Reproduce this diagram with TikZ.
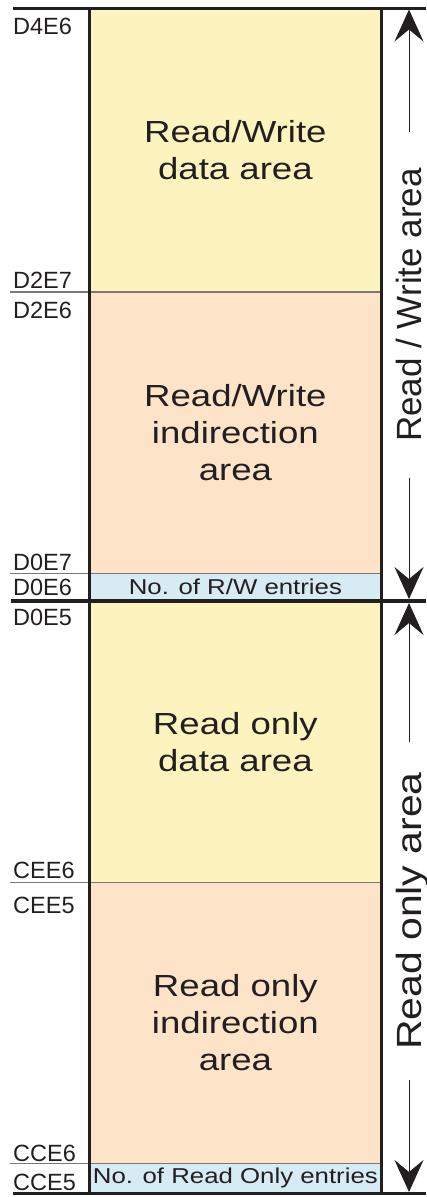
\documentclass[tikz,border=0pt]{standalone}
\usepackage{fontspec}
\setmainfont{Liberation Sans}
\newfontfamily\boxfont{Liberation Sans}[FakeStretch=1.2]
\newfontfamily\rofont{Liberation Sans}[FakeStretch=1.17]
\usetikzlibrary{arrows.meta}
\definecolor{rwyellow}{RGB}{252,243,190}
\definecolor{rwpeach}{RGB}{253,228,201}
\definecolor{rwblue}{RGB}{214,235,243}
\definecolor{inkc}{RGB}{35,31,32}
\definecolor{divc}{RGB}{120,120,120}
\begin{document}
\begin{tikzpicture}[x=1pt,y=-1pt,
  region/.style={draw=none, inner sep=0pt, minimum width=292.2pt, text=inkc, align=center,
    font=\boxfont\fontsize{30.5}{37}\selectfont},
  band/.style={region, font=\boxfont\fontsize{21.5}{24}\selectfont},
  addr/.style={anchor=base west, inner sep=0pt, text=inkc, font=\fontsize{23.5}{26}\selectfont},
  thickline/.style={draw=inkc, line width=3pt},
  divline/.style={draw=divc, line width=1.2pt},
  sidelabel/.style={rotate=90, text=inkc, font=\fontsize{35}{40}\selectfont,
    inner ysep=0pt, inner xsep=30pt, text height=25pt, text depth=0pt},
  sidearrow/.style={draw=inkc, line width=1pt, -{Stealth[length=32pt,width=29pt,inset=12pt]}}
]
\useasboundingbox (0,0) rectangle (426,1197);

% regions
\node[region, fill=rwyellow, minimum height=284pt]   (rwdata) at (235.4,150)    {Read/Write\\data area};
\node[region, fill=rwpeach,  minimum height=281.3pt] (rwind)  at (235.4,432.65) {Read/Write\\indirection\\area};
\node[band,   fill=rwblue,   minimum height=27.7pt]  (rwcnt)  at (235.4,587.15) {No. of R/W entries};
\node[region, fill=rwyellow, minimum height=281.7pt] (rodata) at (235.4,741.85) {Read only\\data area};
\node[region, fill=rwpeach,  minimum height=280.6pt] (roind)  at (235.4,1023)   {Read only\\indirection\\area};
\node[band,   fill=rwblue,   minimum height=30.2pt]  (rocnt)  at (235.4,1178.4) {No. of Read Only entries};

% thin dividers
\draw[divline] (10,292) -- (381.5,292);
\draw[divline] (10,573.3) -- (381.5,573.3);
\draw[divline] (10,882.7) -- (381.5,882.7);
\draw[divline] (10,1163.3) -- (381.5,1163.3);

% thick frame lines
\draw[thickline] (13,8) -- (426,8);
\draw[thickline, line width=3.5pt] (11,601) -- (426,601);
\draw[thickline] (13,1193.5) -- (426,1193.5);
\draw[thickline] (89.3,8) -- (89.3,1193.5);
\draw[thickline] (381.5,8) -- (381.5,1193.5);

% address labels
\node[addr] (aD4E6) at (13,34.3)   {D4E6};
\node[addr] (aD2E7) at (13,288.3)  {D2E7};
\node[addr] (aD2E6) at (13,318.3)  {D2E6};
\node[addr] (aD0E7) at (13,570)    {D0E7};
\node[addr] (aD0E6) at (13,595.7)  {D0E6};
\node[addr] (aD0E5) at (13,625)    {D0E5};
\node[addr] (aCEE6) at (13,878.5)  {CEE6};
\node[addr] (aCEE5) at (13,913.3)  {CEE5};
\node[addr] (aCCE6) at (13,1161)   {CCE6};
\node[addr] (aCCE5) at (13,1190)   {CCE5};

% side areas
\node[sidelabel, inner xsep=36pt] (rwlabel) at (409,305) {Read / Write area};
\coordinate (rwtop) at (409,9.5);
\coordinate (rwbot) at (409,599);
\draw[sidearrow] (rwlabel.east) -- (rwtop);
\draw[sidearrow] (rwlabel.west) -- (rwbot);

\node[sidelabel, font=\rofont\fontsize{35}{40}\selectfont] (rolabel) at (409,911) {Read only area};
\coordinate (rotop) at (409,603);
\coordinate (robot) at (409,1192);
\draw[sidearrow] (rolabel.east) -- (rotop);
\draw[sidearrow] (rolabel.west) -- (robot);
\end{tikzpicture}
\end{document}
